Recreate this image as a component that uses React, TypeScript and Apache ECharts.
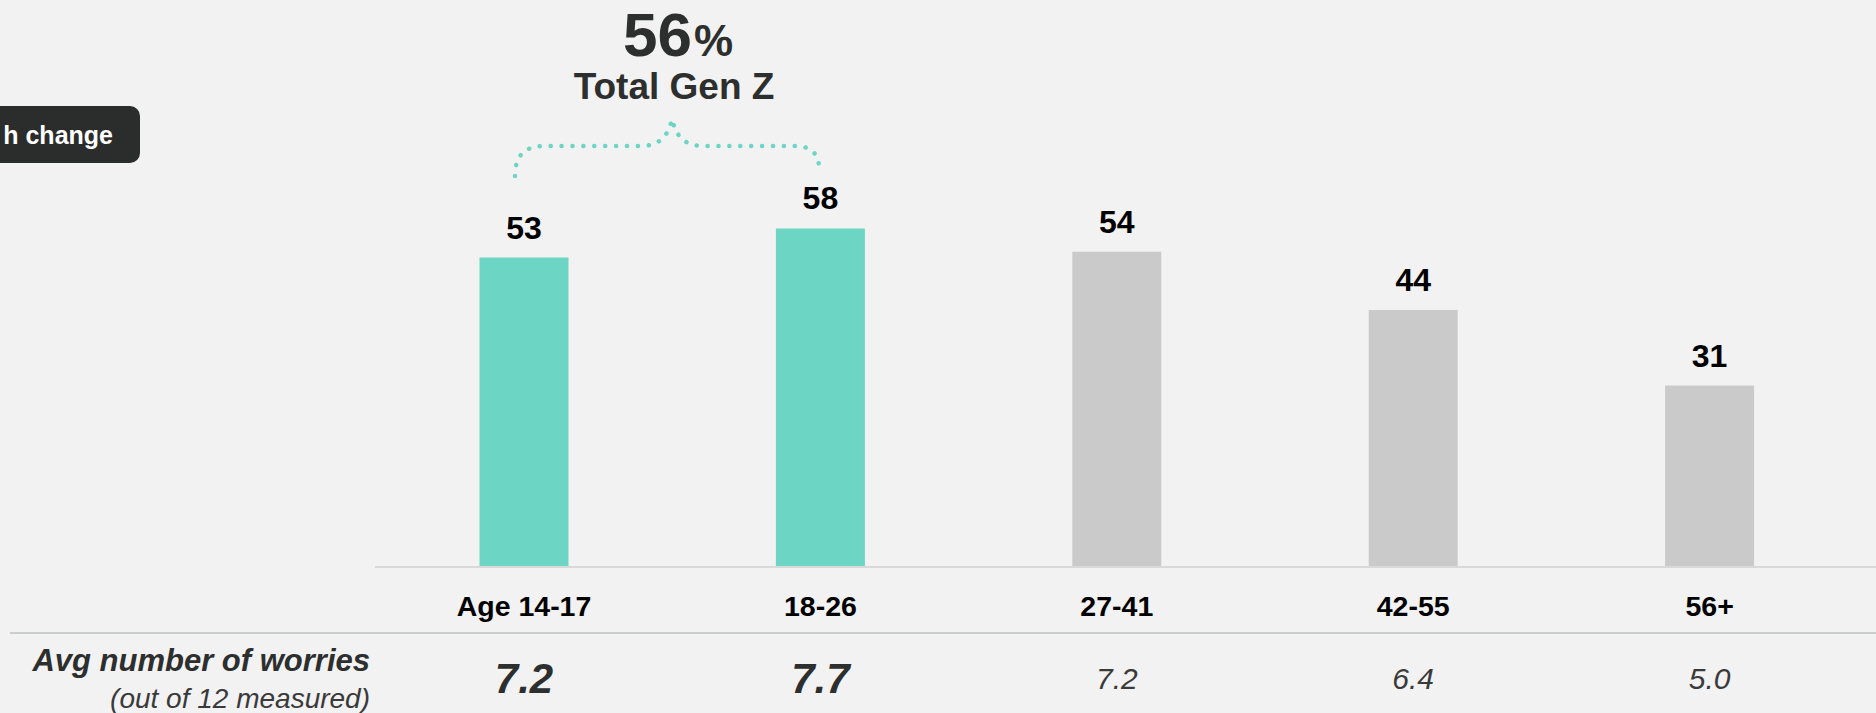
import React, { useEffect, useRef } from "react";
import * as echarts from "echarts";

const categories = ["Age 14-17", "18-26", "27-41", "42-55", "56+"];
const shareValues = [53, 58, 54, 44, 31];
const isGenZ = [true, true, false, false, false];
const avgWorries = ["7.2", "7.7", "7.2", "6.4", "5.0"];
const headline = "56";
const headlineUnit = "%";
const headlineLabel = "Total Gen Z";
const rowTitle = "Avg number of worries";
const rowSubtitle = "(out of 12 measured)";
const buttonText = "h change";

const TEAL = "#6dd5c3";
const GREY = "#cacaca";
const DARK = "#2d2f2e";
const FONT = "'Liberation Sans', Arial, Helvetica, sans-serif";

const bracePath =
  "M515,176 C515,156 524,146 545,146 L640,146 C660,146 668,136 672,119 C676,136 684,146 704,146 L795,146 C812,146 819,155 819,168";

export default function App() {
  const ref = useRef<HTMLDivElement>(null);

  useEffect(() => {
    document.body.style.margin = "0";
    document.body.style.background = "#f2f2f2";
    echarts.graphic.registerShape("brace", echarts.graphic.extendPath(bracePath, {}));
    const chart = echarts.init(ref.current!, null, { renderer: "svg" });
    chart.setOption({
      animation: false,
      backgroundColor: "#f2f2f2",
      grid: { left: 375.8, right: 18.2, top: 0, bottom: 147, containLabel: false },
      xAxis: [
        {
          type: "category",
          data: categories,
          axisLine: { show: false },
          axisTick: { show: false },
          axisLabel: {
            margin: 25,
            color: "#000",
            fontFamily: FONT,
            fontWeight: "bold",
            fontSize: 28.5,
          },
        },
        {
          type: "category",
          position: "bottom",
          data: categories,
          axisLine: { show: false },
          axisTick: { show: false },
          axisLabel: {
            margin: 90,
            formatter: (_v: string, i: number) =>
              isGenZ[i] ? `{b|${avgWorries[i]}}` : `{n|${avgWorries[i]}}`,
            rich: {
              b: {
                fontFamily: FONT,
                fontWeight: "bold",
                fontStyle: "italic",
                fontSize: 42,
                lineHeight: 44,
                color: DARK,
              },
              n: {
                fontFamily: FONT,
                fontStyle: "italic",
                fontSize: 30,
                lineHeight: 44,
                color: "#3a3a3a",
              },
            },
          },
        },
      ],
      yAxis: { type: "value", min: 0, max: 97.25, show: false, splitLine: { show: false } },
      series: [
        {
          type: "bar",
          barWidth: 89,
          data: shareValues.map((v, i) => ({
            value: v,
            itemStyle: { color: isGenZ[i] ? TEAL : GREY },
          })),
          label: {
            show: true,
            position: "top",
            distance: 14,
            color: "#000",
            fontFamily: FONT,
            fontWeight: "bold",
            fontSize: 32,
          },
        },
      ],
      graphic: [
        { type: "rect", shape: { x: 375, y: 566, width: 1501, height: 2 }, style: { fill: "#d9d9d9" } },
        { type: "rect", shape: { x: 10, y: 632, width: 1866, height: 2 }, style: { fill: "#c9cdcc" } },
        {
          type: "rect",
          shape: { x: -20, y: 106, width: 160, height: 57, r: 10 },
          style: { fill: "#2b2d2c" },
        },
        {
          type: "text",
          x: 113,
          y: 135,
          style: {
            text: buttonText,
            fill: "#ffffff",
            font: `bold 25px ${FONT}`,
            align: "right",
            verticalAlign: "middle",
          },
        },
        {
          type: "text",
          x: 692,
          y: 34,
          style: {
            text: headline,
            fill: DARK,
            font: `bold 62px ${FONT}`,
            align: "right",
            verticalAlign: "middle",
          },
        },
        {
          type: "text",
          x: 694,
          y: 40,
          style: {
            text: headlineUnit,
            fill: DARK,
            font: `bold 44px ${FONT}`,
            align: "left",
            verticalAlign: "middle",
          },
        },
        {
          type: "text",
          x: 674,
          y: 86,
          style: {
            text: headlineLabel,
            fill: DARK,
            font: `bold 37px ${FONT}`,
            align: "center",
            verticalAlign: "middle",
          },
        },
        {
          type: "brace",
          x: 0,
          y: 0,
          style: {
            fill: "none",
            stroke: TEAL,
            lineWidth: 4.5,
            lineDash: [0.1, 10.8],
            lineCap: "round",
          },
        },
        {
          type: "text",
          x: 370,
          y: 660,
          style: {
            text: rowTitle,
            fill: DARK,
            font: `italic bold 31px ${FONT}`,
            align: "right",
            verticalAlign: "middle",
          },
        },
        {
          type: "text",
          x: 370,
          y: 698,
          style: {
            text: rowSubtitle,
            fill: "#3a3a3a",
            font: `italic 28px ${FONT}`,
            align: "right",
            verticalAlign: "middle",
          },
        },
      ],
    });
    return () => chart.dispose();
  }, []);

  return <div ref={ref} style={{ width: 1876, height: 713 }} />;
}
